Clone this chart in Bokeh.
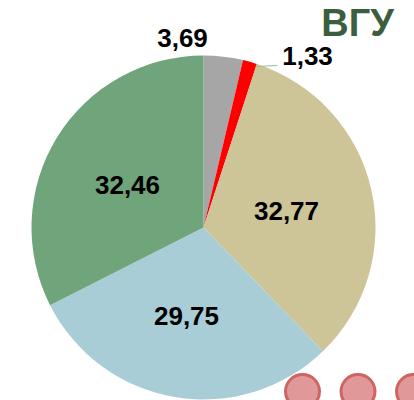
import numpy as np
from bokeh.plotting import figure
from bokeh.models import Range1d, ColumnDataSource
from bokeh.embed import file_html
from bokeh.resources import INLINE
from bokeh.core.properties import value

# data
categories = ["A", "B", "C", "D", "E"]
values = [3.69, 1.33, 32.77, 29.75, 32.46]
labels = ["3,69", "1,33", "32,77", "29,75", "32,46"]
colors = ["#a6a6a6", "#ff0000", "#cdc597", "#a9cdd6", "#70a47a"]
title = "ВГУ"

W, H = 414, 400
def sx(x):
    return x
def sy(y):
    return H - y

p = figure(width=W, height=H, output_backend="svg", toolbar_location=None,
           x_range=Range1d(0, W), y_range=Range1d(0, H), min_border=0)
p.axis.visible = False
p.grid.visible = False
p.outline_line_color = None
p.background_fill_color = "white"

cx, cy, r = sx(203), sy(227), 172
vals = np.array(values)
cum = np.concatenate([[0], np.cumsum(vals)]) / vals.sum()
start = np.pi / 2 - cum[1:] * 2 * np.pi
end = np.pi / 2 - cum[:-1] * 2 * np.pi
src = ColumnDataSource(dict(start=start, end=end, color=colors))
p.wedge(x=cx, y=cy, radius=r, start_angle="start", end_angle="end",
        fill_color="color", line_color=None, source=src)

# leader line for small slice
p.line(x=[sx(255), sx(277)], y=[sy(66), sy(65)], line_color="#8fbf9a", line_width=1)

# label layout (screen coords)
lx = [182, 307, 286, 186, 127]
ly = [38, 56, 211, 316, 185]
p.text(x=[sx(v) for v in lx], y=[sy(v) + 1 for v in ly], text=labels,
       text_font=value("Liberation Sans"), text_font_style="bold",
       text_font_size="26px", text_align="center", text_baseline="middle",
       text_color="black")

p.text(x=[sx(357)], y=[sy(23) + 1], text=[title], text_font=value("Liberation Sans"),
       text_font_style="bold", text_font_size="38px", text_align="center",
       text_baseline="middle", text_color="#3b5e3e")

# decorative circles
p.scatter(x=[sx(302), sx(357.5), sx(413)], y=[sy(391)] * 3, size=34,
          fill_color="#e09898", line_color="#d06464", line_width=3)

open("out.html", "w").write(file_html(p, INLINE))
